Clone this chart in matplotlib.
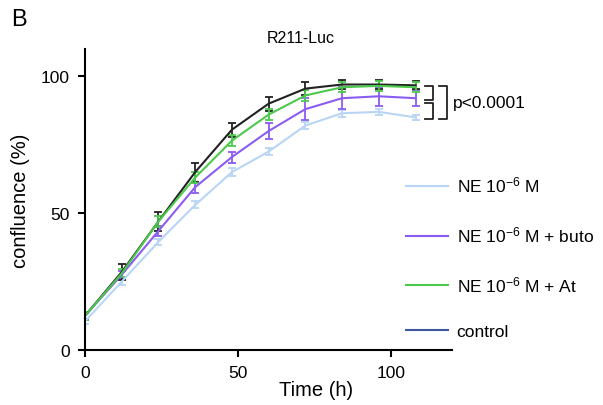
import numpy as np
import matplotlib.pyplot as plt
from matplotlib.lines import Line2D

plt.rcParams['font.family'] = ['Liberation Sans', 'DejaVu Sans']
plt.rcParams['mathtext.default'] = 'regular'

# --- data ---
time_h = [0, 12, 24, 36, 48, 60, 72, 84, 96, 108]
ne = [10.5, 25, 39.5, 53, 65, 72.5, 82, 86.5, 87, 85]
ne_err = [1, 1.2, 1.2, 1.3, 1.5, 1.2, 1.2, 1.2, 1.0, 0.8]
ne_buto = [12.5, 27.5, 43.5, 59.5, 70.5, 80, 88, 92, 92.7, 92]
ne_buto_err = [1, 1.5, 1.8, 2, 2, 3, 4, 4, 3.5, 3]
ne_at = [12.5, 28, 47, 63, 76.5, 86, 93, 96, 96.5, 96]
ne_at_err = [1.5, 1.5, 2, 2, 2, 2, 2, 1.8, 1.8, 1.8]
control = [12.5, 28.5, 47, 65, 80.5, 90, 95.5, 97, 97, 96.7]
control_err = [1.5, 3, 3.6, 3.5, 2.5, 2.5, 2.3, 1.8, 1.8, 1.5]

labels = ["NE 10$^{-6}$ M", "NE 10$^{-6}$ M + buto", "NE 10$^{-6}$ M + At", "control"]
c_ne, c_buto, c_at, c_ctrl = '#b9d5f5', '#8a5cf2', '#4cc94c', '#222222'
legend_ctrl = '#3f5a9c'

fig = plt.figure(figsize=(6.03, 4.06), dpi=100)
ax = fig.add_axes([0.141, 0.1355, 0.609, 0.7415])

for y, e, c in [(ne, ne_err, c_ne), (ne_buto, ne_buto_err, c_buto),
                (control, control_err, c_ctrl), (ne_at, ne_at_err, c_at)]:
    ax.errorbar(time_h, y, yerr=e, color=c, lw=1.5, elinewidth=1.3,
                capsize=3, capthick=1.3)

ax.set_xlim(0, 120)
ax.set_ylim(0, 110)
ax.set_xticks([0, 50, 100])
ax.set_yticks([0, 50, 100])
for s in ['top', 'right']:
    ax.spines[s].set_visible(False)
for s in ['left', 'bottom']:
    ax.spines[s].set_linewidth(1.5)
ax.tick_params(width=1.5, length=5, labelsize=12.5, pad=6)
ax.set_ylabel("confluence (%)", fontsize=14.5, labelpad=8)
ax.set_xlabel("Time (h)", fontsize=14.5)
ax.xaxis.set_label_coords(0.63, -0.1)

# significance brackets
kw = dict(color='#222222', lw=1.3, clip_on=False)
ax.plot([111.2, 113.8, 113.8, 111.2], [96.3, 96.3, 91.2, 91.2], **kw)
ax.plot([111.2, 113.8, 113.8, 111.2], [90.2, 90.2, 84.3, 84.3], **kw)
ax.plot([115.7, 118.4, 118.4, 115.7], [96.3, 96.3, 84.3, 84.3], **kw)
ax.text(120.2, 90.3, "p<0.0001", fontsize=12.5, va='center', ha='left')

fig.text(0.498, 0.905, "R211-Luc", fontsize=11.5, ha='center', va='center')
fig.text(0.018, 0.95, "B", fontsize=17, ha='left', va='center')

handles = [Line2D([], [], color=c, lw=1.5) for c in [c_ne, c_buto, c_at, legend_ctrl]]
fig.legend(handles, labels, loc='upper left', bbox_to_anchor=(0.648, 0.605),
           frameon=False, fontsize=12.5, labelspacing=1.72, handlelength=2.4,
           handletextpad=0.5)

plt.savefig("out.png", dpi=100)
